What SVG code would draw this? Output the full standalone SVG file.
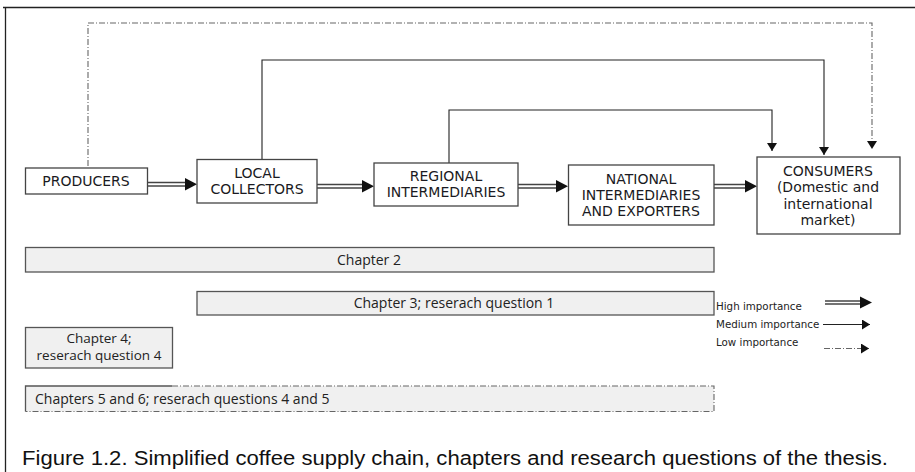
<svg xmlns="http://www.w3.org/2000/svg" width="915" height="472" viewBox="0 0 915 472">
  <style>
    .box { fill: #ffffff; stroke: #444; stroke-width: 1.3; }
    .bar { fill: #f0f0f0; stroke: #555; stroke-width: 1.3; }
    .lbl { font-family: "DejaVu Sans", Verdana, sans-serif; font-size: 14px; fill: #1a1a22; text-anchor: middle; }
    .ch { font-family: "Open Sans", "Noto Sans", sans-serif; font-size: 14px; fill: #222; text-anchor: middle; }
    .leg { font-family: "DejaVu Sans", Verdana, sans-serif; font-size: 10.3px; fill: #222; }
    .med { fill: none; stroke: #222; stroke-width: 1.1; }
    .low { fill: none; stroke: #666; stroke-width: 1.1; stroke-dasharray: 6 2 1 2; }
    .dbl { stroke: #444; stroke-width: 1.4; }
  </style>
  <defs>
    <marker id="tip" markerWidth="8" markerHeight="10" refX="8" refY="5" orient="auto" markerUnits="userSpaceOnUse">
      <path d="M0,0 L8,5 L0,10 Z" fill="#111"/>
    </marker>
  </defs>

  <!-- frame -->
  <path d="M3,7.5 H915 M5.5,7 V472" stroke="#222" stroke-width="1.3" fill="none"/>

  <!-- connectors -->
  <g id="connectors">
    <path class="low" d="M88,166 V23 H872 V149" marker-end="url(#tip)"/>
    <path class="med" d="M262,159 V60 H824 V155" marker-end="url(#tip)"/>
    <path class="med" d="M449,163 V110 H772 V151" marker-end="url(#tip)"/>
    <!-- high-importance double arrows -->
    <g>
      <line class="dbl" x1="147" y1="182.5" x2="188" y2="182.5"/>
      <line class="dbl" x1="147" y1="186" x2="188" y2="186"/>
      <path d="M185,178 L197,184.3 L185,190.5 Z" fill="#111"/>
    </g>
    <g>
      <line class="dbl" x1="317" y1="184.5" x2="365" y2="184.5"/>
      <line class="dbl" x1="317" y1="188" x2="365" y2="188"/>
      <path d="M362,180 L374,186.3 L362,192.5 Z" fill="#111"/>
    </g>
    <g>
      <line class="dbl" x1="518" y1="184.5" x2="559" y2="184.5"/>
      <line class="dbl" x1="518" y1="188" x2="559" y2="188"/>
      <path d="M556,180 L568,186.3 L556,192.5 Z" fill="#111"/>
    </g>
    <g>
      <line class="dbl" x1="714" y1="184.5" x2="748" y2="184.5"/>
      <line class="dbl" x1="714" y1="188" x2="748" y2="188"/>
      <path d="M745,180 L757,186.3 L745,192.5 Z" fill="#111"/>
    </g>
  </g>

  <!-- supply chain nodes -->
  <g id="producers">
    <rect class="box" x="25.5" y="168" width="122" height="26"/>
    <text class="lbl" x="86" y="186">PRODUCERS</text>
  </g>
  <g id="local-collectors">
    <rect class="box" x="197" y="159.5" width="120" height="43.5"/>
    <text class="lbl" x="257" y="178">LOCAL</text>
    <text class="lbl" x="257" y="194">COLLECTORS</text>
  </g>
  <g id="regional-intermediaries">
    <rect class="box" x="374" y="163" width="144" height="43"/>
    <text class="lbl" x="446" y="181">REGIONAL</text>
    <text class="lbl" x="446" y="197">INTERMEDIARIES</text>
  </g>
  <g id="national-intermediaries">
    <rect class="box" x="568.5" y="165" width="145.5" height="60"/>
    <text class="lbl" x="641" y="184">NATIONAL</text>
    <text class="lbl" x="641" y="200">INTERMEDIARIES</text>
    <text class="lbl" x="641" y="216">AND EXPORTERS</text>
  </g>
  <g id="consumers">
    <rect class="box" x="757" y="157" width="143" height="77"/>
    <text class="lbl" x="828" y="176">CONSUMERS</text>
    <text class="lbl" x="828" y="192">(Domestic and</text>
    <text class="lbl" x="828" y="209">international</text>
    <text class="lbl" x="828" y="225">market)</text>
  </g>

  <!-- chapter bars -->
  <g id="chapter-2">
    <rect class="bar" x="25.5" y="247.5" width="688.5" height="24.5"/>
    <text class="ch" x="369" y="265">Chapter 2</text>
  </g>
  <g id="chapter-3">
    <rect class="bar" x="197" y="291.5" width="517" height="23.5"/>
    <text class="ch" x="454" y="308">Chapter 3; reserach question 1</text>
  </g>
  <g id="chapter-4">
    <rect class="bar" x="25.5" y="327.5" width="147" height="40.5"/>
    <text class="ch" x="99" y="343" style="font-size:13.5px">Chapter 4;</text>
    <text class="ch" x="99" y="360" style="font-size:13.5px">reserach question 4</text>
  </g>
  <g id="chapters-5-6">
    <rect x="25.5" y="386" width="688.5" height="25.5" fill="#f0f0f0"/>
    <path d="M25.5,411.5 V386 H172" stroke="#555" stroke-width="1.3" fill="none"/>
    <path d="M172,386 H714 V411.5 H25.5" stroke="#666" stroke-width="1.1" fill="none" stroke-dasharray="6 2 1 2"/>
    <text class="ch" x="35" y="404" style="text-anchor:start">Chapters 5 and 6; reserach questions 4 and 5</text>
  </g>

  <!-- legend -->
  <g id="legend">
    <text class="leg" x="716" y="310">High importance</text>
    <line class="dbl" x1="825" y1="301" x2="862" y2="301"/>
    <line class="dbl" x1="825" y1="304" x2="862" y2="304"/>
    <path d="M860,296.5 L872,302.5 L860,308.5 Z" fill="#111"/>
    <text class="leg" x="716" y="328">Medium importance</text>
    <path class="med" d="M823,324.5 H870" marker-end="url(#tip)"/>
    <text class="leg" x="716" y="346">Low importance</text>
    <path class="low" d="M824,348.5 H869" marker-end="url(#tip)"/>
  </g>

  <!-- caption -->
  <text x="22" y="465" font-family="'Liberation Sans Narrow', 'Liberation Sans', Arial, sans-serif" font-size="20" fill="#111" textLength="866" lengthAdjust="spacingAndGlyphs">Figure 1.2. Simplified coffee supply chain, chapters and research questions of the thesis.</text>
</svg>
